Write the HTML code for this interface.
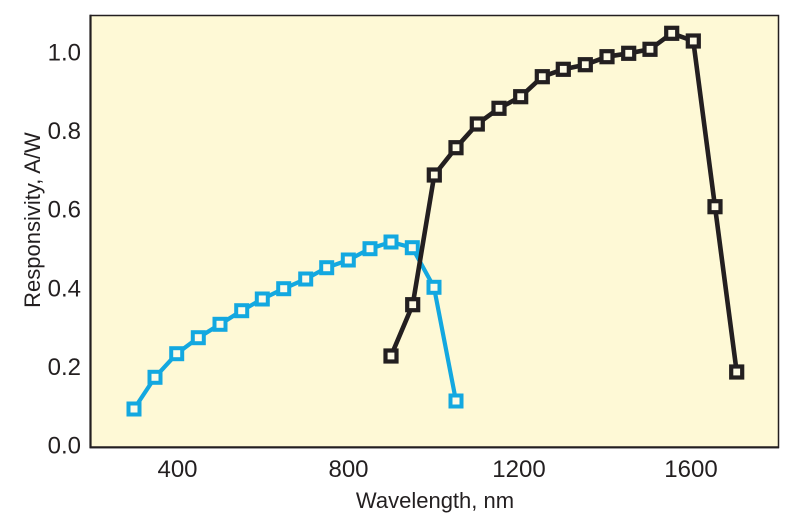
<!DOCTYPE html>
<html>
<head>
<meta charset="utf-8">
<style>
  html, body { margin: 0; padding: 0; background: #ffffff; }
  svg { display: block; }
  text { font-family: "Liberation Sans", "DejaVu Sans", sans-serif; fill: #231f20; }
</style>
</head>
<body>
<svg width="800" height="528" viewBox="0 0 800 528" xmlns="http://www.w3.org/2000/svg">
  <!-- plot area -->
  <rect x="90.5" y="15.5" width="688" height="432" fill="#fef9d6" stroke="#231f20" stroke-width="1.5"/>
  <line x1="90.5" y1="14.8" x2="90.5" y2="448" stroke="#231f20" stroke-width="2.2"/>
  <line x1="89.5" y1="447.3" x2="779" y2="447.3" stroke="#231f20" stroke-width="2.2"/>

  <!-- y tick labels -->
  <g font-size="24" text-anchor="end">
    <text x="81" y="60.5">1.0</text>
    <text x="81" y="139.1">0.8</text>
    <text x="81" y="217.7">0.6</text>
    <text x="81" y="296.3">0.4</text>
    <text x="81" y="374.9">0.2</text>
    <text x="81" y="453.5">0.0</text>
  </g>

  <!-- x tick labels -->
  <g font-size="24" text-anchor="middle">
    <text x="177.5" y="477">400</text>
    <text x="348.5" y="477">800</text>
    <text x="519" y="477">1200</text>
    <text x="691" y="477">1600</text>
  </g>

  <!-- axis titles -->
  <text x="435" y="508" font-size="22" text-anchor="middle">Wavelength, nm</text>
  <text transform="translate(40,220) rotate(-90)" font-size="22" text-anchor="middle">Responsivity, A/W</text>

  <!-- blue series -->
  <polyline fill="none" stroke="#13a8e0" stroke-width="4.2" stroke-linejoin="round"
    points="134,409 155,377.3 176.7,353.7 198.3,337.7 220,324.3 241.7,310.7 262.3,299 283.7,288.7 305.7,279 326.7,267.7 348.3,260 370,248.7 391,242 412.3,247.7 434,287.3 456,401"/>
  <g fill="#fefbe6" stroke="#13a8e0" stroke-width="4">
    <rect x="128.5" y="403.5" width="11" height="11"/>
    <rect x="149.5" y="371.8" width="11" height="11"/>
    <rect x="171.2" y="348.2" width="11" height="11"/>
    <rect x="192.8" y="332.2" width="11" height="11"/>
    <rect x="214.5" y="318.8" width="11" height="11"/>
    <rect x="236.2" y="305.2" width="11" height="11"/>
    <rect x="256.8" y="293.5" width="11" height="11"/>
    <rect x="278.2" y="283.2" width="11" height="11"/>
    <rect x="300.2" y="273.5" width="11" height="11"/>
    <rect x="321.2" y="262.2" width="11" height="11"/>
    <rect x="342.8" y="254.5" width="11" height="11"/>
    <rect x="364.5" y="243.2" width="11" height="11"/>
    <rect x="385.5" y="236.5" width="11" height="11"/>
    <rect x="406.8" y="242.2" width="11" height="11"/>
    <rect x="428.5" y="281.8" width="11" height="11"/>
    <rect x="450.5" y="395.5" width="11" height="11"/>
  </g>

  <!-- black series -->
  <polyline fill="none" stroke="#231f20" stroke-width="4.6" stroke-linejoin="round"
    points="391,356 412.7,304.7 434.3,175 456,147.7 477.3,124 499,108.3 520.7,96.7 542.3,76.7 563.3,69.3 585.3,64.7 607,56.7 628.7,53.3 650,49.3 671.7,33.3 693.3,41 715,206.7 736.7,372"/>
  <g fill="#fefbe6" stroke="#231f20" stroke-width="4.2">
    <rect x="385.5" y="350.5" width="11" height="11"/>
    <rect x="407.2" y="299.2" width="11" height="11"/>
    <rect x="428.8" y="169.5" width="11" height="11"/>
    <rect x="450.5" y="142.2" width="11" height="11"/>
    <rect x="471.8" y="118.5" width="11" height="11"/>
    <rect x="493.5" y="102.8" width="11" height="11"/>
    <rect x="515.2" y="91.2" width="11" height="11"/>
    <rect x="536.8" y="71.2" width="11" height="11"/>
    <rect x="557.8" y="63.8" width="11" height="11"/>
    <rect x="579.8" y="59.2" width="11" height="11"/>
    <rect x="601.5" y="51.2" width="11" height="11"/>
    <rect x="623.2" y="47.8" width="11" height="11"/>
    <rect x="644.5" y="43.8" width="11" height="11"/>
    <rect x="666.2" y="27.8" width="11" height="11"/>
    <rect x="687.8" y="35.5" width="11" height="11"/>
    <rect x="709.5" y="201.2" width="11" height="11"/>
    <rect x="731.2" y="366.5" width="11" height="11"/>
  </g>
</svg>
</body>
</html>
